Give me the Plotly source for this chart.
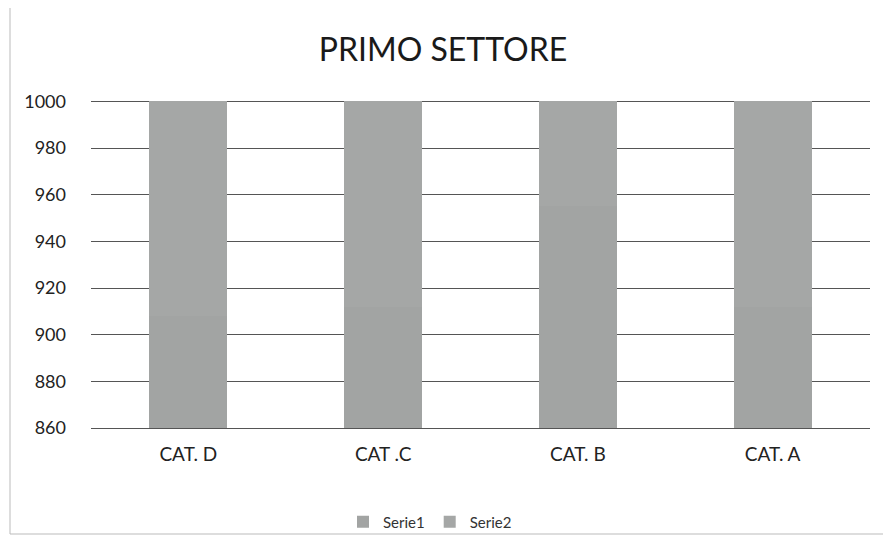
import plotly.graph_objects as go

categories = ["CAT. D", "CAT .C", "CAT. B", "CAT. A"]
serie1 = [908, 912, 955, 912]
serie2 = [92, 88, 45, 88]
y_ticks = [860, 880, 900, 920, 940, 960, 980, 1000]

O = 8  # page body offset
W, H = 891, 537
L, R, T, B = 83, 29, 91, 117
pw = W - L - R
ph = H - T - B

def px(x):
    return (x - O - L) / pw

def py(y):
    return (H - B - (y - O)) / ph

fig = go.Figure()
fig.add_trace(go.Bar(name="Serie1", x=categories, y=serie1, marker_color="#a2a4a3",
                     marker_line_width=0, width=0.4))
fig.add_trace(go.Bar(name="Serie2", x=categories, y=serie2, marker_color="#a5a7a6",
                     marker_line_width=0, width=0.4))

fig.update_layout(
    barmode="stack",
    width=W, height=H,
    margin=dict(l=L, r=R, t=T, b=B, autoexpand=False),
    paper_bgcolor="white", plot_bgcolor="white",
    font=dict(family="Lato, Open Sans, sans-serif", color="#222222"),
    title=dict(text="PRIMO SETTORE", x=px(443), xanchor="center", xref="paper",
               y=1 - (50 - O) / H, yanchor="middle", font=dict(size=32, color="#1a1a1a")),
    legend=dict(orientation="h", x=px(430), xanchor="center", y=py(522), yanchor="middle",
                font=dict(size=15, color="#333333"), traceorder="normal",
                bgcolor="rgba(0,0,0,0)"),
    showlegend=True,
    xaxis=dict(showgrid=False, showline=True, linecolor="#555555", linewidth=1, ticks="",
               tickfont=dict(size=19, color="#222222"), ticklabelstandoff=9),
    yaxis=dict(range=[860, 1001], tickvals=y_ticks, showgrid=True, gridcolor="#555555",
               gridwidth=1, zeroline=False, showline=False, ticks="",
               tickfont=dict(size=18, color="#222222"), ticklabelstandoff=24),
    shapes=[dict(type="rect", xref="paper", yref="paper",
                 x0=px(10), x1=px(888), y0=py(534), y1=py(2),
                 line=dict(color="#bbbbbb", width=1), layer="below")],
)

fig.write_html("out.html")
